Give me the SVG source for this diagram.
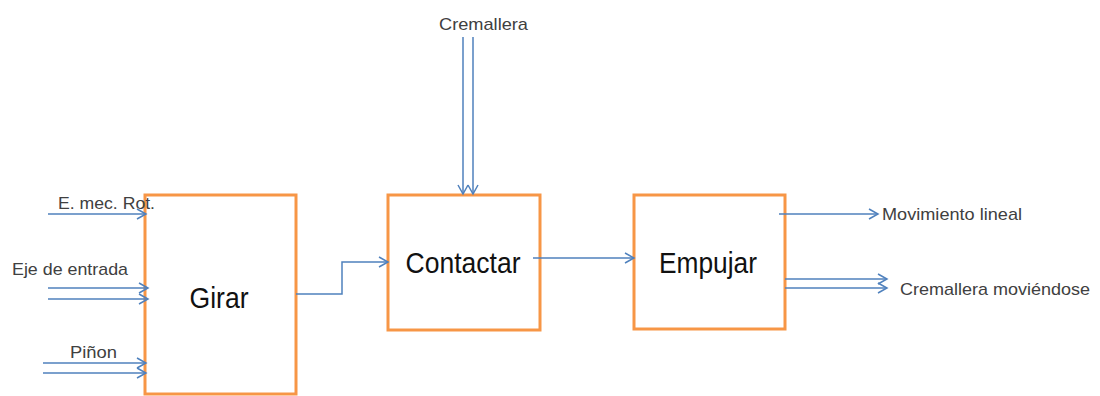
<svg xmlns="http://www.w3.org/2000/svg" width="1100" height="396" viewBox="0 0 1100 396">
<defs>
<style>
.box{fill:#fff;stroke:#F79646;stroke-width:3}
.c{fill:none;stroke:#4F81BD;stroke-width:1.5;marker-end:url(#ah)}
.lbl{font-family:"Liberation Sans",Arial,sans-serif;font-size:17px;fill:#404040}
.big{font-family:"Liberation Sans",Arial,sans-serif;font-size:30px;fill:#111;text-anchor:middle}
</style>
<marker id="ah" markerWidth="12" markerHeight="12" refX="10" refY="6" orient="auto" markerUnits="userSpaceOnUse">
<polyline points="1,1 10,6 1,11" fill="none" stroke="#4F81BD" stroke-width="1.5"/>
</marker>
</defs>
<rect width="1100" height="396" fill="#fff"/>
<g id="girar"><rect class="box" x="145" y="195" width="151" height="199"/><text class="big" x="219" y="308" textLength="59" lengthAdjust="spacingAndGlyphs">Girar</text></g>
<g id="contactar"><rect class="box" x="388" y="195" width="152" height="135"/><text class="big" x="463" y="273" textLength="115" lengthAdjust="spacingAndGlyphs">Contactar</text></g>
<g id="empujar"><rect class="box" x="634" y="195" width="151" height="134"/><text class="big" x="708" y="273" textLength="98" lengthAdjust="spacingAndGlyphs">Empujar</text></g>
<g id="labels">
<text class="lbl" x="58" y="209" textLength="97" lengthAdjust="spacingAndGlyphs">E. mec. Rot.</text>
<text class="lbl" x="12" y="275" textLength="116" lengthAdjust="spacingAndGlyphs">Eje de entrada</text>
<text class="lbl" x="70" y="358" textLength="47" lengthAdjust="spacingAndGlyphs">Piñon</text>
<text class="lbl" x="439" y="30" textLength="89" lengthAdjust="spacingAndGlyphs">Cremallera</text>
<text class="lbl" x="882" y="220" textLength="140" lengthAdjust="spacingAndGlyphs">Movimiento lineal</text>
<text class="lbl" x="900" y="295" textLength="190" lengthAdjust="spacingAndGlyphs">Cremallera moviéndose</text>
</g>
<g id="connectors">
<path class="c" d="M48 214H146"/>
<path class="c" d="M48 288H148"/>
<path class="c" d="M48 299H148"/>
<path class="c" d="M43 363H146"/>
<path class="c" d="M43 373H146"/>
<path class="c" d="M463 37V194"/>
<path class="c" d="M473 37V194"/>
<path class="c" d="M296 294H342V262H388"/>
<path class="c" d="M533 258H634"/>
<path class="c" d="M779 214H878"/>
<path class="c" d="M785 279H887"/>
<path class="c" d="M785 288H887"/>
</g>
</svg>
